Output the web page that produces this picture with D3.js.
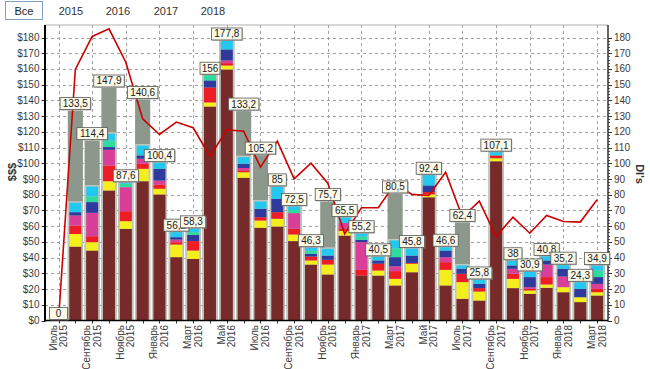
<!DOCTYPE html>
<html><head><meta charset="utf-8">
<script src="https://cdn.jsdelivr.net/npm/d3@7"></script>
<style>
body{margin:0;background:#fff;}
svg{display:block;font-family:"Liberation Sans",Arial,sans-serif;}
</style></head>
<body><svg id="c" width="650" height="369"></svg>
<script>
const months = ["Июль 2015","Август 2015","Сентябрь 2015","Октябрь 2015","Ноябрь 2015","Декабрь 2015",
"Январь 2016","Февраль 2016","Март 2016","Апрель 2016","Май 2016","Июнь 2016","Июль 2016","Август 2016",
"Сентябрь 2016","Октябрь 2016","Ноябрь 2016","Декабрь 2016","Январь 2017","Февраль 2017","Март 2017",
"Апрель 2017","Май 2017","Июнь 2017","Июль 2017","Август 2017","Сентябрь 2017","Октябрь 2017",
"Ноябрь 2017","Декабрь 2017","Январь 2018","Февраль 2018","Март 2018"];
const shownLabels = ["Июль 2015","Сентябрь 2015","Ноябрь 2015","Январь 2016","Март 2016","Май 2016",
"Июль 2016","Сентябрь 2016","Ноябрь 2016","Январь 2017","Март 2017","Май 2017","Июль 2017",
"Сентябрь 2017","Ноябрь 2017","Январь 2018","Март 2018"];
const totals = [0,133.5,114.4,147.9,87.6,140.6,100.4,56.2,58.3,156,177.8,133.2,105.2,85,72.5,46.3,75.7,
65.5,55.2,40.5,80.5,45.8,92.4,46.6,62.4,25.8,107.1,38,30.9,40.8,35.2,24.3,34.9];
const sBrown   = [0,47,44.5,82.7,58.3,88.6,80.2,40.3,39.2,136.1,159.7,90.8,59,59.8,50.5,35.6,29.3,54,28.6,28.6,22.3,30.7,78.4,22.3,13.8,12.7,101.3,20.6,17,20.8,18,11.7,15.9];
const sYellow  = [0,8,5.3,5.9,4.9,7.9,3.6,8,5.3,2.6,2.5,3.5,4.6,4.9,4.2,2.6,6.3,3,0,3.2,4.2,5.4,1.8,9.9,10.6,5.7,1.9,5.9,2.1,2.1,3.2,3.1,2.1];
const sRed     = [0,5.4,3.8,10,6.3,3.2,2.7,1.5,6,9.5,1.5,1.2,2.1,4.2,3.6,2.5,3,1.5,3.6,4.3,4.9,0.5,1.5,4.9,5.3,2.2,1.8,3.2,1,4.7,0,0,2.1];
const sMagenta = [0,6.4,14.9,10,15.3,3.2,2.5,1.7,0,0,1.7,1.5,0,0,10,0,0,3.5,17.6,0,3.1,0,0,3.2,0,0,0,3.2,1.1,8,6.8,0,3.2];
const sBlue    = [0,2.1,6.8,1.7,0,2.1,7.5,1.5,4,4.5,7,2.7,5.4,8.5,0,1.7,2.7,0,1.5,2.1,5.8,4.7,4.2,4.2,3.2,2.7,0,2.1,6.4,2.6,4.9,5.3,4.3];
const sGreen   = [0,0,3.6,4.2,2.2,0,0,0,1.7,3.3,0,0,0,0,2,2,0,0,2,0,5.7,0,0,0,0,0,0,0,0,0,0,0,4.2];
const sCyan    = [0,6,6.3,4.3,0.6,6.3,3.9,3.2,2.1,0,5.4,4.2,4.6,7.6,2.2,1.9,4.3,3.5,1.9,2.3,4.9,4.5,6.5,2.1,2.1,2.5,2.1,3,3.3,2.6,2.3,4.2,3.1];
const dis = [0,159.7,180.7,185.5,164.3,128.3,118.3,126.2,122.6,104.3,121.3,120.4,97.5,114,90.1,100.1,87.3,
55.1,71.7,71.7,87.3,80.2,79.5,94.3,65.7,75.9,53.4,65.7,55.5,66.8,63,62.6,76.8];
const yTicks = d3.range(0,181,10);
const yMinorTicks = d3.range(0,181,2);
const yearButtons = ["2015","2016","2017","2018"];

const seriesKeys = ["brown","yellow","red","magenta","blue","green","cyan"];
const seriesArrays = [sBrown,sYellow,sRed,sMagenta,sBlue,sGreen,sCyan];
const colors = {brown:"#772a2a",yellow:"#f4ef1c",red:"#ee1c24",magenta:"#d93f99",blue:"#2e3a9c",green:"#2edc9e",cyan:"#22c8ee"};

const svg = d3.select("#c");
const L=45, R=608, T=25, B=320.5;
const x = d3.scalePoint().domain(months).range([58.5,597.1]);
const step = x.step();
const y = d3.scaleLinear().domain([0,180]).range([B,37.5]);

// top buttons
svg.append("rect").attr("x",5.5).attr("y",1.5).attr("width",37).attr("height",18).attr("fill","#fff").attr("stroke","#7f9fc4");
svg.append("text").attr("x",24).attr("y",14.5).attr("text-anchor","middle").attr("font-size",11).attr("fill","#222").text("Все");
const btnX = [71,118,166,213];
yearButtons.forEach((t,i)=>svg.append("text").attr("x",btnX[i]).attr("y",14.5).attr("text-anchor","middle").attr("font-size",11).attr("fill","#333").text(t));

// grid
const g = svg.append("g");
g.selectAll("line.h").data(yTicks.filter(d=>d>0)).join("line")
 .attr("x1",L).attr("x2",R).attr("y1",d=>Math.round(y(d))+0.5).attr("y2",d=>Math.round(y(d))+0.5)
 .attr("stroke","#a0a0a0").attr("stroke-dasharray","3,3");
g.selectAll("line.v").data(shownLabels).join("line")
 .attr("x1",d=>Math.round(x(d))+0.5).attr("x2",d=>Math.round(x(d))+0.5).attr("y1",T).attr("y2",B)
 .attr("stroke","#a0a0a0").attr("stroke-dasharray","3,3");
svg.append("line").attr("x1",L).attr("x2",R).attr("y1",T).attr("y2",T).attr("stroke","#b0b0b0");

// gray total bars
const gw = step*0.9;
svg.append("g").selectAll("rect").data(months).join("rect")
 .attr("x",d=>x(d)-gw/2).attr("width",gw)
 .attr("y",(d,i)=>y(totals[i])).attr("height",(d,i)=>B-y(totals[i]))
 .attr("fill","#8d988d");

// stacked bars
const table = months.map((m,i)=>{const o={month:m}; seriesKeys.forEach((k,j)=>o[k]=seriesArrays[j][i]); return o;});
const stack = d3.stack().keys(seriesKeys)(table);
const sw = 12;
const stackTop = table.map(o=>seriesKeys.reduce((a,k)=>a+o[k],0));
svg.append("g").selectAll("rect").data(table.filter((o,i)=>stackTop[i]>0)).join("rect")
 .attr("x",o=>x(o.month)-sw/2-1.5).attr("width",sw+3)
 .attr("y",o=>y(stackTop[months.indexOf(o.month)])-1.5)
 .attr("height",o=>B-y(stackTop[months.indexOf(o.month)])+1.5)
 .attr("fill","#c2c6be");
svg.append("g").selectAll("g").data(stack).join("g").attr("fill",s=>colors[s.key])
 .selectAll("rect").data(s=>s).join("rect")
 .attr("x",d=>x(d.data.month)-sw/2).attr("width",sw)
 .attr("y",d=>y(d[1])).attr("height",d=>Math.max(0,y(d[0])-y(d[1])));

// axes
const ax = svg.append("g").attr("font-size",10).attr("fill","#3a3a3a");
ax.selectAll("line.lt").data(yTicks).join("line").attr("x1",L-3.5).attr("x2",L).attr("y1",d=>Math.round(y(d))+0.5).attr("y2",d=>Math.round(y(d))+0.5).attr("stroke","#333");
ax.selectAll("text.lt").data(yTicks).join("text").attr("x",L-5.5).attr("y",d=>y(d)+3.5).attr("text-anchor","end").text(d=>"$"+d);
ax.selectAll("line.rm").data(yMinorTicks).join("line").attr("x1",R).attr("x2",R+2).attr("y1",d=>Math.round(y(d))+0.5).attr("y2",d=>Math.round(y(d))+0.5).attr("stroke","#555");
ax.selectAll("line.rt").data(yTicks).join("line").attr("x1",R).attr("x2",R+4).attr("y1",d=>Math.round(y(d))+0.5).attr("y2",d=>Math.round(y(d))+0.5).attr("stroke","#333");
ax.selectAll("text.rt").data(yTicks).join("text").attr("x",R+6).attr("y",d=>y(d)+3.5).text(d=>d);
ax.selectAll("line.bt").data(months).join("line").attr("x1",d=>Math.round(x(d))+0.5).attr("x2",d=>Math.round(x(d))+0.5).attr("y1",B).attr("y2",B+3).attr("stroke","#333");
svg.append("line").attr("x1",L).attr("x2",L).attr("y1",T).attr("y2",B+1).attr("stroke","#000").attr("stroke-width",2);
svg.append("line").attr("x1",R).attr("x2",R).attr("y1",T).attr("y2",B+1).attr("stroke","#333").attr("stroke-width",1.5);
svg.append("line").attr("x1",L).attr("x2",R).attr("y1",B).attr("y2",B).attr("stroke","#000").attr("stroke-width",1.5);
shownLabels.forEach(lbl=>{
  const [mn,yr] = lbl.split(" ");
  const cx = x(lbl);
  ax.append("text").attr("transform",`translate(${cx-2},${325}) rotate(-90)`).attr("text-anchor","end").text(mn);
  ax.append("text").attr("transform",`translate(${cx+8.5},${325}) rotate(-90)`).attr("text-anchor","end").text(yr);
});
svg.append("text").attr("transform","translate(16,172) rotate(-90)").attr("text-anchor","middle").attr("font-size",11).attr("font-weight","bold").attr("fill","#333").text("$$$");
svg.append("text").attr("transform","translate(636,174) rotate(90)").attr("text-anchor","middle").attr("font-size",11).attr("font-weight","bold").attr("fill","#333").text("DI's");

// line
svg.append("path").datum(dis).attr("fill","none").attr("stroke","#cc0000").attr("stroke-width",1.6)
 .attr("d",d3.line().x((d,i)=>x(months[i])).y(d=>y(d)));

// value labels
const fmt = v => (Math.round(v*10)/10).toString().replace(".",",");
const lg = svg.append("g").attr("font-size",10);
totals.forEach((v,i)=>{
  const t = fmt(v);
  const w = Math.max(18, t.length*5.3+4);
  const cx = x(months[i]);
  const by = y(v)-1;
  lg.append("rect").attr("x",cx-w/2+1).attr("y",by-12+1).attr("width",w).attr("height",12).attr("fill","#999").attr("opacity",0.6);
  lg.append("rect").attr("x",cx-w/2).attr("y",by-12).attr("width",w).attr("height",12).attr("fill","#fbf9e8").attr("stroke","#555").attr("stroke-width",0.8);
  lg.append("text").attr("x",cx).attr("y",by-2.5).attr("text-anchor","middle").attr("fill","#222").text(t);
});
</script></body></html>
